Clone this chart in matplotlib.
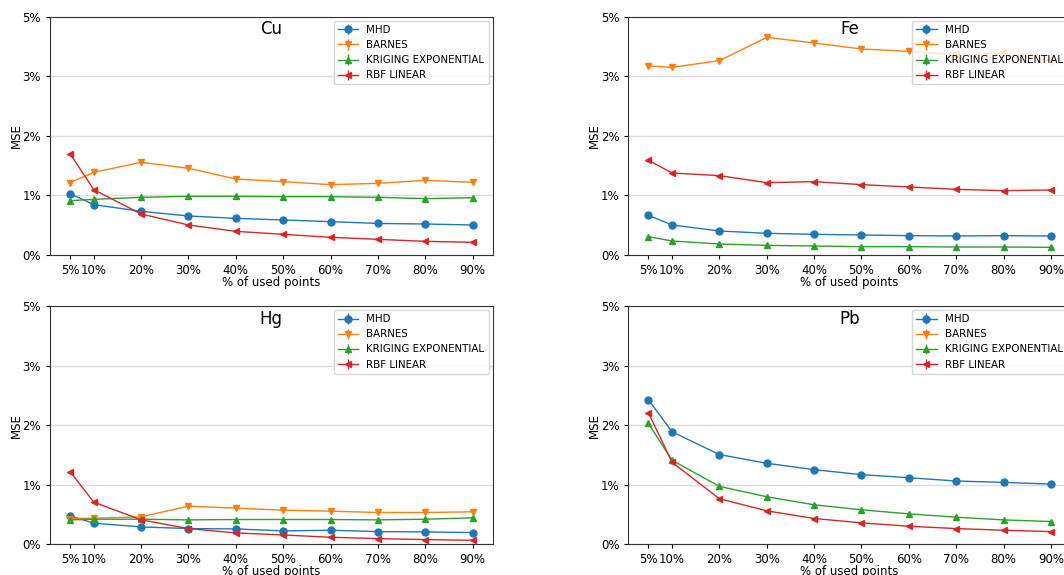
import numpy as np
import matplotlib
matplotlib.use("Agg")
import matplotlib.pyplot as plt
from matplotlib.ticker import FixedLocator, FixedFormatter

pct_used = [5, 10, 20, 30, 40, 50, 60, 70, 80, 90]
x_labels = ["5%", "10%", "20%", "30%", "40%", "50%", "60%", "70%", "80%", "90%"]
y_tick_pos = [0, 1, 2, 3, 4]
y_tick_labels = ["0%", "1%", "2%", "3%", "5%"]
methods = ["MHD", "BARNES", "KRIGING EXPONENTIAL", "RBF LINEAR"]
elements = ["Cu", "Fe", "Hg", "Pb"]

cu_mhd = [1.03, 0.845, 0.733, 0.655, 0.615, 0.588, 0.56, 0.53, 0.52, 0.504]
cu_barnes = [1.214, 1.388, 1.556, 1.455, 1.276, 1.231, 1.181, 1.203, 1.253, 1.22]
cu_kriging = [0.912, 0.934, 0.968, 0.985, 0.985, 0.979, 0.979, 0.968, 0.946, 0.962]
cu_rbf = [1.70, 1.097, 0.688, 0.504, 0.397, 0.347, 0.297, 0.263, 0.229, 0.213]

fe_mhd = [0.666, 0.504, 0.403, 0.364, 0.347, 0.336, 0.325, 0.319, 0.325, 0.319]
fe_barnes = [3.173, 3.15, 3.262, 3.654, 3.559, 3.458, 3.419, 3.36, 3.385, 3.26]
fe_kriging = [0.308, 0.235, 0.185, 0.162, 0.151, 0.14, 0.14, 0.134, 0.134, 0.129]
fe_rbf = [1.589, 1.377, 1.332, 1.214, 1.231, 1.181, 1.142, 1.102, 1.08, 1.091]

hg_mhd = [0.478, 0.354, 0.292, 0.264, 0.258, 0.225, 0.236, 0.213, 0.208, 0.197]
hg_barnes = [0.433, 0.438, 0.461, 0.64, 0.607, 0.573, 0.556, 0.534, 0.534, 0.545]
hg_kriging = [0.41, 0.421, 0.421, 0.41, 0.416, 0.416, 0.416, 0.41, 0.421, 0.444]
hg_rbf = [1.219, 0.708, 0.41, 0.264, 0.191, 0.157, 0.118, 0.096, 0.079, 0.067]

pb_mhd = [2.427, 1.888, 1.506, 1.36, 1.253, 1.169, 1.118, 1.062, 1.039, 1.011]
pb_barnes = [np.nan] * 10  # not visible in the panel
pb_kriging = [2.028, 1.41, 0.972, 0.798, 0.663, 0.579, 0.511, 0.455, 0.41, 0.382]
pb_rbf = [2.208, 1.376, 0.764, 0.562, 0.433, 0.36, 0.303, 0.264, 0.236, 0.213]

panels = {
    "Cu": [cu_mhd, cu_barnes, cu_kriging, cu_rbf],
    "Fe": [fe_mhd, fe_barnes, fe_kriging, fe_rbf],
    "Hg": [hg_mhd, hg_barnes, hg_kriging, hg_rbf],
    "Pb": [pb_mhd, pb_barnes, pb_kriging, pb_rbf],
}

colors = ["#1f77b4", "#ff7f0e", "#2ca02c", "#d62728"]
markers = ["o", "v", "^", "<"]

W, H = 1064, 575
fig = plt.figure(figsize=(W / 100, H / 100), dpi=100)

ax_w = 442.7 / W
ax_h = 238.3 / H
positions = {
    "Cu": (50 / W, 1 - 255 / H),
    "Fe": (628.3 / W, 1 - 255 / H),
    "Hg": (50 / W, 1 - 544.3 / H),
    "Pb": (628.3 / W, 1 - 544.3 / H),
}

for el in elements:
    left, bottom = positions[el]
    ax = fig.add_axes([left, bottom, ax_w, ax_h])
    for name, vals, c, m in zip(methods, panels[el], colors, markers):
        ax.errorbar(pct_used, vals, yerr=np.zeros(len(vals)), color=c, marker=m,
                    markersize=5, linewidth=1, label=name)
    ax.set_ylim(0, 4)
    ax.set_xlim(0.75, 94.25)
    ax.yaxis.set_major_locator(FixedLocator(y_tick_pos))
    ax.yaxis.set_major_formatter(FixedFormatter(y_tick_labels))
    ax.set_xticks(pct_used)
    ax.set_xticklabels(x_labels)
    ax.tick_params(labelsize=8.5, length=3, width=0.8)
    ax.grid(axis="y", color="#dddddd", linewidth=1)
    ax.set_axisbelow(True)
    for s in ax.spines.values():
        s.set_linewidth(0.8)
        s.set_color("#333333")
    ax.set_ylabel("MSE", fontsize=8.5, labelpad=-0.5)
    ax.set_xlabel("% of used points", fontsize=8.5, labelpad=-1)
    ax.text(0.5, 0.985, el, transform=ax.transAxes, ha="center", va="top", fontsize=12)
    ax.legend(loc="upper right", fontsize=7.4, framealpha=0.8, borderaxespad=0.4,
              handlelength=2.0)

fig.savefig("out.png", dpi=100)
